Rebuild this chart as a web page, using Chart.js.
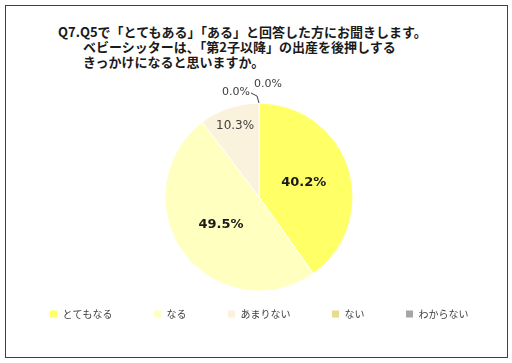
<!DOCTYPE html>
<html lang="ja">
<head>
<meta charset="UTF-8">
<title>Q7</title>
<script src="https://cdn.jsdelivr.net/npm/chart.js"></script>
<style>
  html, body { margin: 0; padding: 0; background: #fff; }
  #wrap { position: relative; width: 512px; height: 363px; }
  #frame { position: absolute; left: 5px; top: 5px; width: 501px; height: 351px; border: 1.5px solid #404040; }
  #title { position: absolute; left: 58px; top: 24px; font: bold 13px "Noto Sans CJK JP", sans-serif; color: #1a1a1a; line-height: 15px; }
  #title div.sub { padding-left: 25px; }
  canvas { position: absolute; left: 0; top: 0; }
</style>
</head>
<body>
<div id="wrap">
  <div id="frame"></div>
  <div id="title">
    <div>Q7.Q5で「とてもある」「ある」と回答した方にお聞きします。</div>
    <div class="sub">ベビーシッターは、「第2子以降」の出産を後押しする</div>
    <div class="sub">きっかけになると思いますか。</div>
  </div>
  <canvas id="pie" width="512" height="363"></canvas>
</div>
<script>
const categories = ["とてもなる", "なる", "あまりない", "ない", "わからない"];
const shares = [40.2, 49.5, 10.3, 0.0, 0.0];
const colors = ["#FFFF66", "#FFFFC0", "#FBF2DE", "#E5DC8F", "#A6A6A6"];

const jp = '"Noto Sans CJK JP", sans-serif';

// draws the percentage labels, with leader lines for the empty slices
const sliceLabels = {
  id: "sliceLabels",
  afterDatasetsDraw(chart) {
    const ctx = chart.ctx;
    const arcs = chart.getDatasetMeta(0).data;
    ctx.save();
    ctx.textAlign = "center";
    ctx.textBaseline = "middle";
    let zeroIdx = 0;
    arcs.forEach((arc, i) => {
      const v = shares[i];
      const txt = v.toFixed(1) + "%";
      const { x, y, startAngle, endAngle, outerRadius } = arc.getProps(["x", "y", "startAngle", "endAngle", "outerRadius"], true);
      if (v > 0) {
        const mid = (startAngle + endAngle) / 2;
        const f = v < 15 ? 0.8 : 0.5;
        const lx = x + Math.cos(mid) * outerRadius * f;
        const ly = y + Math.sin(mid) * outerRadius * f;
        ctx.font = (v < 15 ? "12px " : "bold 13px ") + '"DejaVu Sans", sans-serif';
        ctx.fillStyle = v < 15 ? "#404040" : "#1a1a1a";
        ctx.fillText(txt, lx, ly);
      } else {
        const ex = x + Math.cos(startAngle) * outerRadius;
        const ey = y + Math.sin(startAngle) * outerRadius;
        ctx.font = '11px "DejaVu Sans", sans-serif';
        ctx.fillStyle = "#404040";
        ctx.strokeStyle = "#404040";
        ctx.lineWidth = 1;
        if (zeroIdx === 0) {
          ctx.beginPath();
          ctx.moveTo(ex, ey);
          ctx.lineTo(ex - 2, ey - 7);
          ctx.lineTo(ex - 8, ey - 10);
          ctx.stroke();
          ctx.textAlign = "right";
          ctx.fillText(txt, ex - 9, ey - 11);
        } else {
          ctx.textAlign = "left";
          ctx.fillText(txt, ex - 5, ey - 19);
        }
        ctx.textAlign = "center";
        zeroIdx++;
      }
    });
    ctx.restore();
  }
};

new Chart(document.getElementById("pie"), {
  type: "pie",
  data: {
    labels: categories,
    datasets: [{
      data: shares,
      backgroundColor: colors,
      borderColor: "#ffffff",
      borderWidth: 1
    }]
  },
  options: {
    responsive: false,
    animation: false,
    radius: 94,
    layout: { padding: { top: 126, bottom: 34, left: 6, right: 0 } },
    plugins: {
      tooltip: { enabled: false },
      legend: {
        position: "bottom",
        labels: {
          boxWidth: 8,
          boxHeight: 8,
          padding: 41,
          color: "#404040",
          font: { family: jp, size: 10 }
        }
      }
    }
  },
  plugins: [sliceLabels]
});
</script>
</body>
</html>
